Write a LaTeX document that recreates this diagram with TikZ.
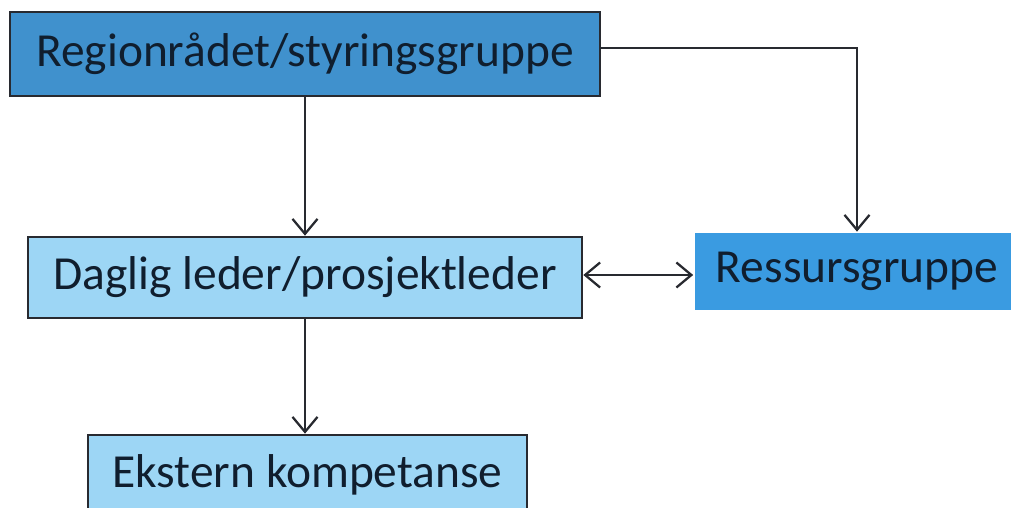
\documentclass[tikz,border=0pt]{standalone}
\usepackage{fontspec}
\setmainfont{Carlito}
\usetikzlibrary{arrows.meta}
\definecolor{darkblue}{RGB}{64,145,205}
\definecolor{resblue}{RGB}{58,155,225}
\definecolor{lightblue}{RGB}{157,214,245}
\definecolor{inktext}{RGB}{16,30,46}
\definecolor{inkline}{RGB}{40,42,48}

\begin{document}
\begin{tikzpicture}[
		box/.style={draw=inkline, line width=1.5pt, text=inktext, inner sep=0pt,
			font=\fontsize{27}{32}\selectfont},
		arr/.style={draw=inkline, line width=1.3pt, -{Straight Barb[length=3mm,width=5mm]}},
		darr/.style={draw=inkline, line width=1.3pt, {Straight Barb[length=3mm,width=5mm]}-{Straight Barb[length=3mm,width=5mm]}}
	]
		%%%%% FRAME %%%%%
		\useasboundingbox (0, 0) rectangle (20.22, 10.16);
		\clip (0, 0) rectangle (20.22, 10.16);
		
		%%%%% BOXES %%%%%
		\node[box, fill=darkblue, minimum width=11.8cm, minimum height=1.68cm] (styring) at (6.1, 9.08) {Regionrådet/styringsgruppe};
		\node[box, fill=lightblue, minimum width=11.08cm, minimum height=1.62cm] (leder) at (6.1, 4.61) {Daglig leder/prosjektleder};
		\node[box, draw=none, fill=resblue, minimum width=6.5cm, minimum height=1.54cm] (ressurs) at (17.14, 4.73) {Ressursgruppe};
		\node[box, fill=lightblue, minimum width=8.78cm, minimum height=1.6cm] (ekstern) at (6.15, 0.66) {Ekstern kompetanse};
		
		%%%%% ARROWS %%%%%
		\draw[arr] (styring.south) -- (leder.north);
		\draw[arr] ([yshift=0.12cm]styring.east) -| (ressurs.north);
		\draw[darr] ([yshift=0.05cm]leder.east) -- ([yshift=0.05cm]leder.east -| ressurs.west);
		\draw[arr] (leder.south) -- (leder.south |- ekstern.north);
	\end{tikzpicture}
\end{document}
